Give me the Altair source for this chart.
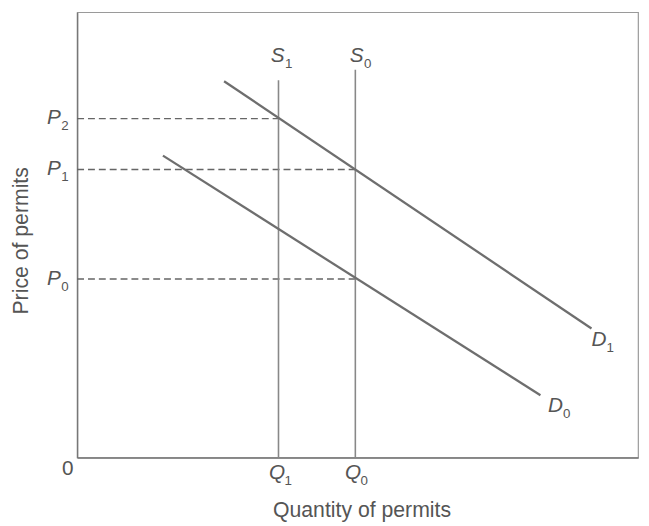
import altair as alt
import pandas as pd

# ---- values (axis units 0..10) ----
q_names = ["Q1", "Q0"]
q_values = [3.59, 4.96]
s_tops = [8.47, 8.71]          # top ends of the vertical supply lines S1, S0

p_names = ["P2", "P1", "P0"]
p_values = [7.61, 6.47, 4.01]
p_dash_to = [3.59, 4.96, 4.96]  # dashed guide lines run to these quantities

d_names = ["D1", "D0"]
d_x_start = [2.62, 1.53]
d_y_start = [8.45, 6.78]
d_x_end = [9.17, 8.26]
d_y_end = [2.90, 1.40]

# labels: letter, subscript, position
lab_letter = ["P", "P", "P", "Q", "Q", "S", "S", "D", "D"]
lab_sub = ["2", "1", "0", "1", "0", "1", "0", "1", "0"]
lab_x = [-0.414, -0.414, -0.414, 3.565, 4.92, 3.574, 4.982, 9.305, 8.53]
lab_y = [7.62, 6.47, 4.01, -0.355, -0.355, 9.024, 9.024, 2.639, 1.153]

origin_label = ["0"]
origin_x = [-0.167]
origin_y = [-0.255]

# ---- tables ----
supply = pd.DataFrame({"name": q_names, "x": q_values, "x2": q_values,
                       "y": [0, 0], "y2": s_tops})
dashes = pd.DataFrame({"name": p_names, "x": [0, 0, 0], "x2": p_dash_to,
                       "y": p_values, "y2": p_values})
demand = pd.DataFrame({"name": d_names, "x": d_x_start, "x2": d_x_end,
                       "y": d_y_start, "y2": d_y_end})
labels = pd.DataFrame({"letter": lab_letter, "sub": lab_sub, "x": lab_x, "y": lab_y})
origin = pd.DataFrame({"t": origin_label, "x": origin_x, "y": origin_y})

FONT = "Liberation Sans"
TXT = "#555555"

xs = alt.Scale(domain=[0, 10], nice=False, zero=False)
ys = alt.Scale(domain=[0, 10], nice=False, zero=False)

x_axis = alt.Axis(title="Quantity of permits", labels=False, ticks=False, grid=False,
                  domainColor="#777777", domainWidth=1.5,
                  titleFont=FONT, titleFontSize=21.5, titleFontWeight="normal",
                  titleColor=TXT, titlePadding=43, titleX=288)
y_axis = alt.Axis(title="Price of permits", labels=False, ticks=False, grid=False,
                  domainColor="#777777", domainWidth=1.5,
                  titleFont=FONT, titleFontSize=21.5, titleFontWeight="normal",
                  titleColor=TXT, titlePadding=45, titleY=231)

X = alt.X("x:Q", scale=xs, axis=x_axis)
Y = alt.Y("y:Q", scale=ys, axis=y_axis)

supply_layer = alt.Chart(supply).mark_rule(color="#888888", strokeWidth=1.6).encode(
    x=X, x2="x2:Q", y=Y, y2="y2:Q")
dash_layer = alt.Chart(dashes).mark_rule(color="#666666", strokeWidth=1.4,
                                          strokeDash=[7, 4]).encode(
    x=X, x2="x2:Q", y=Y, y2="y2:Q")
demand_layer = alt.Chart(demand).mark_rule(color="#6e6e6e", strokeWidth=2.3).encode(
    x=X, x2="x2:Q", y=Y, y2="y2:Q")

letter_layer = alt.Chart(labels).mark_text(font=FONT, fontSize=21, fontStyle="italic",
                                           color=TXT, align="center",
                                           baseline="middle").encode(
    x=X, y=Y, text="letter:N")
sub_layer = alt.Chart(labels).mark_text(font=FONT, fontSize=13.5, color=TXT, align="left",
                                        baseline="middle", dx=7.5, dy=8).encode(
    x=X, y=Y, text="sub:N")
origin_layer = alt.Chart(origin).mark_text(font=FONT, fontSize=21, color=TXT,
                                           align="center", baseline="middle").encode(
    x=X, y=Y, text="t:N")

chart = alt.layer(
    dash_layer, supply_layer, demand_layer, letter_layer, sub_layer, origin_layer
).properties(
    width=568, height=451,
    padding={"left": 70, "top": 1, "right": 3, "bottom": 66},
    autosize=alt.AutoSizeParams(type="none"),
    background="white",
).configure_view(stroke="#9a9a9a", strokeWidth=1.2)

chart.save("out.html", embed_options={"renderer": "svg", "actions": False})
